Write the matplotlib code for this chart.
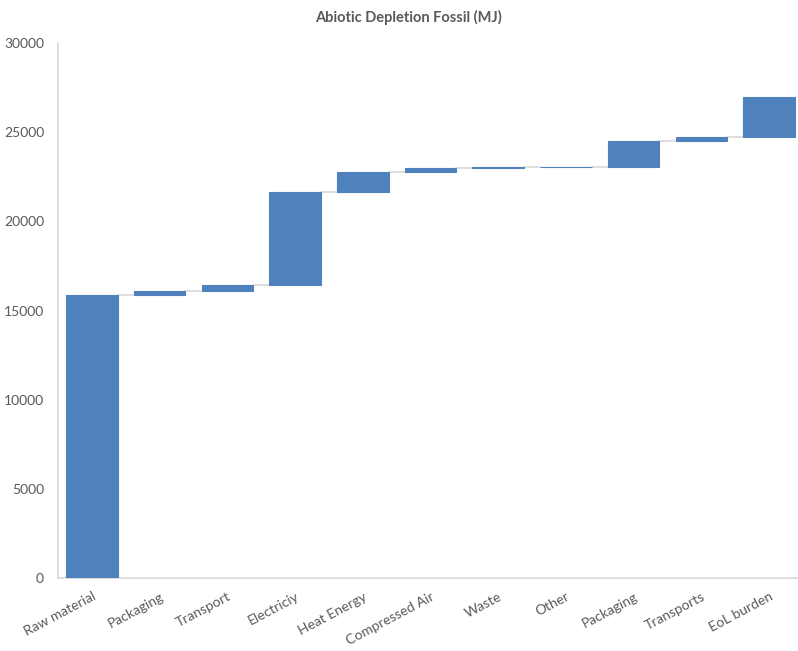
import matplotlib
matplotlib.use("Agg")
import matplotlib.pyplot as plt
import numpy as np

categories = ["Raw material", "Packaging", "Transport", "Electriciy", "Heat Energy",
              "Compressed Air", "Waste", "Other", "Packaging", "Transports", "EoL burden"]
increments = [15890, 190, 350, 5200, 1160, 200, 40, 40, 1460, 200, 2230]
yticks = [0, 5000, 10000, 15000, 20000, 25000, 30000]

plt.rcParams['font.family'] = ['Lato', 'DejaVu Sans']

W, H = 798, 651
fig = plt.figure(figsize=(W / 100, H / 100), dpi=100)
ax = fig.add_axes([58 / W, (H - 578) / H, (803 - 58) / W, (578 - 43) / H])

inc = np.array(increments, dtype=float)
ends = np.cumsum(inc)
starts = ends - inc
x = np.arange(len(categories))

bar_color = "#4f81bd"
ax.bar(x, inc, bottom=starts, width=0.76, color=bar_color, edgecolor=bar_color,
       linewidth=0.8, zorder=3)

# connector lines
for i in range(len(x) - 1):
    ax.plot([x[i] + 0.38, x[i + 1] - 0.38], [ends[i], ends[i]],
            color="#d9d9d9", lw=1.2, zorder=2)

ax.set_xlim(-0.5, len(x) - 0.5)
ax.set_ylim(0, 30000)
ax.set_yticks(yticks)
ax.set_yticklabels([str(v) for v in yticks], fontsize=10, color="#595959")
ax.set_xticks(x)
ax.set_xticklabels(categories, rotation=28, ha="right", rotation_mode="anchor",
                   fontsize=10, color="#595959")
ax.tick_params(axis="both", length=0)
ax.tick_params(axis="y", pad=10)
ax.tick_params(axis="x", pad=9)

for s in ["top", "right"]:
    ax.spines[s].set_visible(False)
ax.spines["left"].set_color("#d9d9d9")
ax.spines["bottom"].set_color("#d9d9d9")
ax.spines["left"].set_linewidth(1.2)
ax.spines["bottom"].set_linewidth(1.2)

fig.text(408 / W, 1 - 17 / H, "Abiotic Depletion Fossil (MJ)", ha="center", va="center",
         fontsize=10.5, fontweight="bold", color="#595959")

fig.savefig("out.png", dpi=100)
